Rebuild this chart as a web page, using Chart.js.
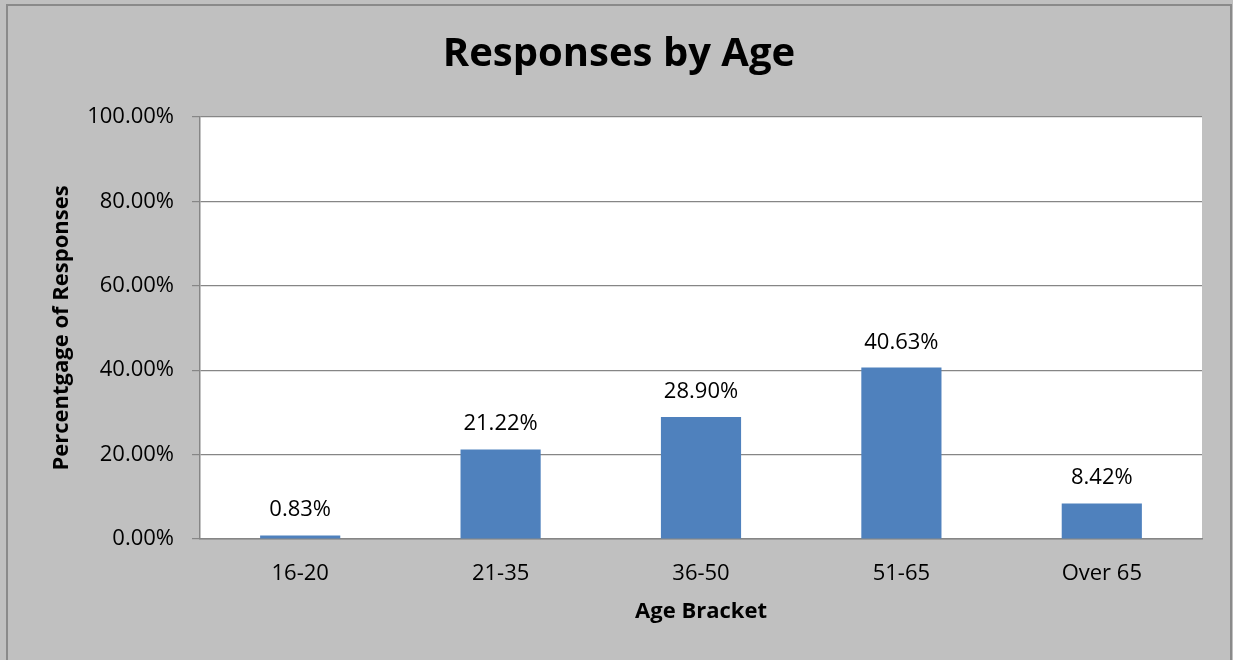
<!DOCTYPE html>
<html>
<head>
<meta charset="utf-8">
<script src="https://cdn.jsdelivr.net/npm/chart.js@4/dist/chart.umd.min.js"></script>
<style>
  html, body { margin: 0; padding: 0; background: #c0c0c0; }
  #wrap { width: 1233px; height: 660px; }
</style>
</head>
<body>
<div id="wrap"><canvas id="chart" width="1233" height="660"></canvas></div>
<script>
const categories = ['16-20', '21-35', '36-50', '51-65', 'Over 65'];
const responses = [0.83, 21.22, 28.90, 40.63, 8.42];
const yTicks = [0, 20, 40, 60, 80, 100];

const FONT = '"Open Sans", "Liberation Sans", sans-serif';

// grey frame + white plot area
const frame = {
    id: 'frame',
    beforeDraw(chart) {
        const { ctx, chartArea: a } = chart;
        ctx.save();
        ctx.fillStyle = '#c0c0c0';
        ctx.fillRect(0, 0, chart.width, chart.height);
        ctx.strokeStyle = '#8a8a8a';
        ctx.lineWidth = 2;
        ctx.strokeRect(7, 5, chart.width - 9, chart.height + 10);
        ctx.fillStyle = '#ffffff';
        ctx.fillRect(a.left, a.top, a.right - a.left, a.bottom - a.top);
        ctx.restore();
    }
};

// value labels above bars
const valueLabels = {
    id: 'valueLabels',
    afterDatasetsDraw(chart) {
        const { ctx } = chart;
        const meta = chart.getDatasetMeta(0);
        ctx.save();
        ctx.font = '22px ' + FONT;
        ctx.fillStyle = '#000';
        ctx.textAlign = 'center';
        ctx.textBaseline = 'alphabetic';
        meta.data.forEach((bar, i) => {
            ctx.fillText(responses[i].toFixed(2) + '%', bar.x, bar.y - 19);
        });
        ctx.restore();
    }
};

new Chart(document.getElementById('chart'), {
    type: 'bar',
    data: {
        labels: categories,
        datasets: [{
            data: responses,
            backgroundColor: '#4f81bd',
            borderWidth: 0,
            barPercentage: 0.4,
            categoryPercentage: 1.0
        }]
    },
    options: {
        responsive: false,
        animation: false,
        layout: { padding: { top: 0, left: 36, right: 31, bottom: 0 } },
        plugins: {
            legend: { display: false },
            tooltip: { enabled: false },
            title: {
                display: true,
                text: 'Responses by Age',
                color: '#000',
                font: { family: FONT, size: 40, weight: 'bold', lineHeight: 1.2 },
                padding: { top: 31, bottom: 38 }
            }
        },
        scales: {
            x: {
                grid: { display: false, drawTicks: false },
                border: { display: true, color: '#868686', width: 1.5 },
                ticks: { color: '#000', font: { family: FONT, size: 22 }, padding: 22 },
                title: {
                    display: true,
                    text: 'Age Bracket',
                    color: '#000',
                    font: { family: FONT, size: 22, weight: 'bold', lineHeight: 1.2 },
                    padding: { top: 0, bottom: 35 }
                },
                afterFit(scale) { scale.height = 121; }
            },
            y: {
                min: 0,
                max: 100,
                afterBuildTicks(scale) { scale.ticks = yTicks.map(v => ({ value: v })); },
                grid: { color: '#868686', lineWidth: 1.2, tickLength: 8, drawOnChartArea: true },
                border: { display: true, color: '#868686', width: 1.5 },
                ticks: {
                    color: '#000',
                    font: { family: FONT, size: 22 },
                    padding: 18,
                    callback: v => v.toFixed(2) + '%'
                },
                title: {
                    display: true,
                    text: 'Percentgage of Responses',
                    color: '#000',
                    font: { family: FONT, size: 22, weight: 'bold', lineHeight: 1.2 },
                    padding: { top: 13, bottom: 0 }
                },
                afterFit(scale) { scale.width = 164; }
            }
        }
    },
    plugins: [frame, valueLabels]
});
</script>
</body>
</html>
